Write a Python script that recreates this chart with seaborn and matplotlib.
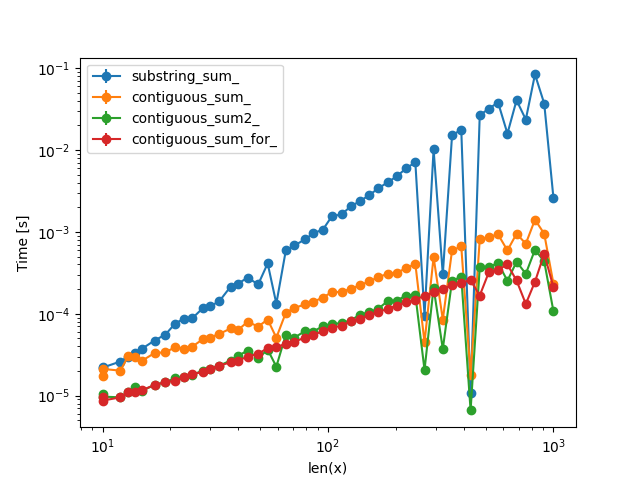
import matplotlib
matplotlib.use("Agg")
import matplotlib.pyplot as plt
import seaborn as sns

# len(x) values used for the timing runs
lengths = [10, 10, 12, 13, 14, 15, 17, 19, 21, 23, 25, 28, 30, 33, 37, 40, 44, 49, 54, 59,
           65, 71, 79, 86, 95, 104, 115, 126, 138, 152, 167, 184, 202, 222, 244, 268, 294, 323, 355, 390,
           429, 471, 517, 568, 625, 686, 754, 828, 910, 1000]

# measured times [s]
substring_sum = [2.26e-5, 2.20e-5, 2.61e-5, 3.0e-5, 3.36e-5, 3.76e-5, 4.71e-5, 5.57e-5, 7.6e-5, 8.75e-5,
                 8.8e-5, 1.19e-4, 1.23e-4, 1.43e-4, 2.15e-4, 2.34e-4, 2.77e-4, 2.28e-4, 4.12e-4, 1.33e-4,
                 5.94e-4, 6.84e-4, 8.09e-4, 9.6e-4, 1.07e-3, 1.55e-3, 1.64e-3, 2.05e-3, 2.36e-3, 2.80e-3,
                 3.40e-3, 4.04e-3, 4.78e-3, 5.98e-3, 7.08e-3, 9.5e-5, 1.02e-2, 3.02e-4, 1.51e-2, 1.78e-2,
                 1.08e-5, 2.66e-2, 3.21e-2, 3.81e-2, 1.59e-2, 4.06e-2, 2.36e-2, 8.4e-2, 3.70e-2, 2.59e-3]
contiguous_sum = [1.76e-5, 2.12e-5, 2.02e-5, 3.04e-5, 3.0e-5, 2.68e-5, 3.31e-5, 3.39e-5, 3.90e-5, 3.76e-5,
                  3.97e-5, 4.94e-5, 5.13e-5, 5.69e-5, 6.61e-5, 6.38e-5, 7.98e-5, 6.98e-5, 8.51e-5, 5.1e-5,
                  1.03e-4, 1.18e-4, 1.30e-4, 1.40e-4, 1.58e-4, 1.84e-4, 1.85e-4, 2.02e-4, 2.22e-4, 2.48e-4,
                  2.80e-4, 3.08e-4, 3.17e-4, 3.61e-4, 4.08e-4, 4.49e-5, 4.92e-4, 8.5e-5, 5.94e-4, 6.65e-4,
                  1.78e-5, 8.09e-4, 8.69e-4, 9.31e-4, 5.94e-4, 9.5e-4, 7.18e-4, 1.41e-3, 9.5e-4, 2.32e-4]
contiguous_sum2 = [1.05e-5, 9.73e-6, 9.53e-6, 1.12e-5, 1.26e-5, 1.15e-5, 1.35e-5, 1.46e-5, 1.63e-5, 1.67e-5,
                   1.81e-5, 2.02e-5, 2.12e-5, 2.33e-5, 2.68e-5, 3.08e-5, 3.55e-5, 2.86e-5, 3.65e-5, 2.26e-5,
                   5.57e-5, 5.13e-5, 6.12e-5, 6.05e-5, 7.08e-5, 7.53e-5, 7.66e-5, 8.26e-5, 9.70e-5, 1.05e-4,
                   1.15e-4, 1.43e-4, 1.45e-4, 1.67e-4, 1.71e-4, 2.06e-5, 2.09e-4, 3.72e-5, 2.53e-4, 2.83e-4,
                   6.6e-6, 3.68e-4, 3.75e-4, 4.15e-4, 2.53e-4, 4.32e-4, 3.08e-4, 6.05e-4, 4.36e-4, 1.07e-4]
contiguous_sum_for = [9.53e-6, 8.69e-6, 9.53e-6, 1.10e-5, 1.11e-5, 1.17e-5, 1.35e-5, 1.46e-5, 1.52e-5, 1.67e-5,
                      1.83e-5, 1.95e-5, 2.12e-5, 2.33e-5, 2.55e-5, 2.68e-5, 3.0e-5, 3.24e-5, 3.81e-5, 3.92e-5,
                      4.29e-5, 4.54e-5, 5.13e-5, 5.57e-5, 6.10e-5, 6.73e-5, 7.18e-5, 8.11e-5, 8.67e-5, 9.53e-5,
                      1.05e-4, 1.15e-4, 1.26e-4, 1.38e-4, 1.49e-4, 1.66e-4, 1.82e-4, 2.02e-4, 2.22e-4, 2.41e-4,
                      2.57e-4, 1.67e-4, 3.22e-4, 3.45e-4, 4.0e-4, 2.55e-4, 1.32e-4, 2.46e-4, 5.41e-4, 2.11e-4]

series = {
    "substring_sum_": substring_sum,
    "contiguous_sum_": contiguous_sum,
    "contiguous_sum2_": contiguous_sum2,
    "contiguous_sum_for_": contiguous_sum_for,
}

colors = sns.color_palette("tab10", 4)

fig, ax = plt.subplots(figsize=(6.4, 4.8), dpi=100)
for (name, times), c in zip(series.items(), colors):
    # spread of the runs is too small to see, so zero-length bars
    ax.errorbar(lengths, times, yerr=[0] * len(times), fmt="-o", color=c, label=name)

ax.set_xscale("log")
ax.set_yscale("log")
ax.set_xlabel("len(x)")
ax.set_ylabel("Time [s]")
ax.legend(loc="upper left")

fig.savefig("out.png")
